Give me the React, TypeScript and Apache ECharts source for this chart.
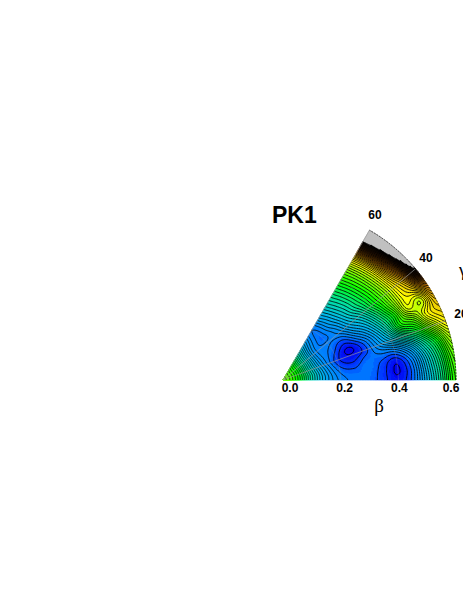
import React, { useEffect, useRef } from "react";
import * as echarts from "echarts";

const betaNodes = [0, 0.05, 0.1, 0.15, 0.2, 0.25, 0.3, 0.35, 0.4, 0.45, 0.5, 0.55, 0.6];
const gammaNodes = [0, 5, 10, 15, 20, 25, 30, 35, 40, 45, 50, 55, 60];
const energy0 = [20, 16.5, 11, 6.5, 4, 3.3, 3.2, 2.2, 1.3, 3, 7.5, 12.5, 18];
const energy5 = [20, 16.5, 11, 6.5, 3.7, 3.2, 3.3, 2.2, 1.0, 3, 8, 13, 18.5];
const energy10 = [20, 16.5, 11, 6.2, 3.2, 2.6, 3.4, 2.5, 1.5, 4, 9, 14, 19.5];
const energy15 = [20, 16.5, 10.7, 5.8, 2.6, 1.8, 3, 3.5, 4, 7, 11.5, 16, 21.5];
const energy20 = [20, 16.5, 10.5, 5.3, 2.2, 1.2, 2.2, 5, 8, 12, 15.5, 20.5, 24.5];
const energy25 = [20, 16.5, 10.2, 5, 2.5, 0.9, 2.6, 6, 10.5, 16.5, 19, 24, 26.5];
const energy30 = [20, 16.5, 10.2, 4.8, 3, 1.8, 4.2, 7.5, 12, 17, 23, 22, 28.5];
const energy35 = [20, 16.5, 10.2, 4.6, 3.4, 3.0, 6, 9, 13.5, 18.5, 23.5, 26.5, 33];
const energy40 = [20, 16.5, 10.2, 4.5, 3.6, 4.3, 7.5, 10.5, 15, 19, 24, 30, 44];
const energy45 = [20, 16.5, 10.2, 4.6, 3.2, 5, 8.5, 12, 15.5, 19.5, 25, 34, 50];
const energy50 = [20, 16.5, 10.4, 5, 3.2, 5.8, 9.2, 12.5, 16, 20, 26, 38, 55];
const energy55 = [20, 16.7, 10.8, 5.6, 3.3, 6.3, 9.8, 13, 16.5, 20.5, 27, 41, 58];
const energy60 = [20, 17, 11.2, 6.2, 3.5, 6.8, 10.3, 13.5, 17, 21, 28, 43, 60];
const energyRows = [energy0, energy5, energy10, energy15, energy20, energy25, energy30, energy35, energy40, energy45, energy50, energy55, energy60];

const betaTicks = ["0.0", "0.2", "0.4", "0.6"];
const gammaTicks = ["60", "40", "20"];
const gridGammas = [20, 40, 60];
const gridBetas = [0.2, 0.4];
const title = "PK1";

const CAP = 45;
const NB = 108;
const NG = 84;
const BUCKETS = 140;

const colorStops: [number, number[]][] = [
  [0, [0, 0, 225]],
  [1, [0, 0, 240]],
  [2.5, [0, 64, 255]],
  [3.5, [0, 125, 255]],
  [8, [0, 185, 235]],
  [12, [0, 225, 160]],
  [16.5, [0, 255, 0]],
  [24, [255, 255, 0]],
  [31, [210, 125, 0]],
  [37, [90, 40, 0]],
  [45, [0, 0, 0]],
];

function colorOf(v: number) {
  let a = colorStops[0];
  let b = colorStops[colorStops.length - 1];
  for (let i = 0; i < colorStops.length - 1; i++) {
    if (v >= colorStops[i][0] && v <= colorStops[i + 1][0]) {
      a = colorStops[i];
      b = colorStops[i + 1];
      break;
    }
  }
  const t = Math.max(0, Math.min(1, (v - a[0]) / (b[0] - a[0] || 1)));
  const c = a[1].map((x, i) => Math.round(x + (b[1][i] - x) * t));
  return `rgb(${c[0]},${c[1]},${c[2]})`;
}

function catmull(p0: number, p1: number, p2: number, p3: number, t: number) {
  return 0.5 * (2 * p1 + (p2 - p0) * t + (2 * p0 - 5 * p1 + 4 * p2 - p3) * t * t + (3 * p1 - p0 - 3 * p2 + p3) * t * t * t);
}

function sample(bi: number, gi: number) {
  const b = Math.min(bi, betaNodes.length - 1.0001);
  const g = Math.min(gi, gammaNodes.length - 1.0001);
  const ib = Math.floor(b);
  const ig = Math.floor(g);
  const row = (j: number) => {
    const r = energyRows[Math.max(0, Math.min(energyRows.length - 1, j))];
    const at = (k: number) => r[Math.max(0, Math.min(r.length - 1, k))];
    return catmull(at(ib - 1), at(ib), at(ib + 1), at(ib + 2), b - ib);
  };
  return catmull(row(ig - 1), row(ig), row(ig + 1), row(ig + 2), g - ig);
}

const field: number[][] = [];
for (let j = 0; j <= NG; j++) {
  const r: number[] = [];
  for (let i = 0; i <= NB; i++) {
    r.push(sample((i / NB) * (betaNodes.length - 1), (j / NG) * (gammaNodes.length - 1)));
  }
  field.push(r);
}
const betaAt = (i: number) => (i / NB) * 0.6;
const gammaAt = (j: number) => (j / NG) * 60;

const levels: number[] = [];
for (let l = 0.3; l < CAP; l += 0.8) levels.push(l);

function bucketOf(v: number) {
  if (v >= CAP) return BUCKETS;
  return Math.max(0, Math.min(BUCKETS - 1, Math.floor((v / CAP) * BUCKETS)));
}
const bucketIds: number[][] = [];
for (let k = 0; k <= BUCKETS; k++) bucketIds.push([0.3, 30, k]);
const levelIds = levels.map((l) => [0.3, 30, l]);

function fillItem(params: any, api: any) {
  const k = params.dataIndex;
  let d = "";
  for (let j = 0; j < NG; j++) {
    for (let i = 0; i < NB; i++) {
      const v = (field[j][i] + field[j + 1][i] + field[j][i + 1] + field[j + 1][i + 1]) / 4;
      if (bucketOf(v) !== k) continue;
      const p = [
        api.coord([betaAt(i), gammaAt(j)]),
        api.coord([betaAt(i + 1), gammaAt(j)]),
        api.coord([betaAt(i + 1), gammaAt(j + 1)]),
        api.coord([betaAt(i), gammaAt(j + 1)]),
      ];
      d += `M${p.map((q: number[]) => `${q[0].toFixed(2)} ${q[1].toFixed(2)}`).join("L")}Z`;
    }
  }
  if (!d) return null;
  const color = k === BUCKETS ? "#c0c0c0" : colorOf(((k + 0.5) / BUCKETS) * CAP);
  return {
    type: "path",
    shape: { pathData: d },
    style: { fill: color, stroke: color, lineWidth: 0.7 },
    silent: true,
  };
}

function contourItem(params: any, api: any) {
  const level = levels[params.dataIndex];
  let d = "";
  const cross = (i0: number, j0: number, i1: number, j1: number) => {
    const a = field[j0][i0];
    const b = field[j1][i1];
    const t = (level - a) / (b - a);
    const q = api.coord([betaAt(i0 + (i1 - i0) * t), gammaAt(j0 + (j1 - j0) * t)]);
    return `${q[0].toFixed(2)} ${q[1].toFixed(2)}`;
  };
  for (let j = 0; j < NG; j++) {
    for (let i = 0; i < NB; i++) {
      const pts: string[] = [];
      const a = field[j][i], b = field[j][i + 1], c = field[j + 1][i + 1], e = field[j + 1][i];
      if (a < level !== b < level) pts.push(cross(i, j, i + 1, j));
      if (b < level !== c < level) pts.push(cross(i + 1, j, i + 1, j + 1));
      if (c < level !== e < level) pts.push(cross(i + 1, j + 1, i, j + 1));
      if (e < level !== a < level) pts.push(cross(i, j + 1, i, j));
      for (let s = 0; s + 1 < pts.length; s += 2) d += `M${pts[s]}L${pts[s + 1]}`;
    }
  }
  if (!d) return null;
  return {
    type: "path",
    shape: { pathData: d },
    style: { fill: "none", stroke: "#000", lineWidth: 0.85 },
    silent: true,
  };
}

function gridItem(params: any, api: any) {
  const children: any[] = [];
  gridGammas.forEach((g) => {
    const a = api.coord([0, g]);
    const b = api.coord([0.6, g]);
    children.push({ type: "line", shape: { x1: a[0], y1: a[1], x2: b[0], y2: b[1] }, style: { stroke: "rgba(150,150,150,0.75)", lineWidth: 0.9 } });
  });
  gridBetas.forEach((beta) => {
    const pts: number[][] = [];
    for (let g = 0; g <= 60; g += 2) pts.push(api.coord([beta, g]));
    children.push({ type: "polyline", shape: { points: pts }, style: { stroke: "rgba(150,150,150,0.35)", lineWidth: 0.9, fill: "none" } });
  });
  const rim: number[][] = [];
  for (let g = 0; g <= 60; g += 1) rim.push(api.coord([0.6, g]));
  children.push({ type: "polyline", shape: { points: rim }, style: { stroke: "#222", lineWidth: 0.8, lineDash: [2, 1], fill: "none" } });
  return { type: "group", children, silent: true };
}

export default function App() {
  const ref = useRef<HTMLDivElement>(null);
  useEffect(() => {
    document.body.style.margin = "0";
    const chart = echarts.init(ref.current!, undefined, { renderer: "svg" });
    const cx = 283;
    const cy = 380;
    const R = 173;
    const tickFont = { fontFamily: "Liberation Sans", fontWeight: "bold", fontSize: 12, fill: "#000" };
    const betaOffsets = [7, 4, 1, -5];
    const gammaPos = [[375, 215], [426, 258], [461, 314]];
    chart.setOption({
      animation: false,
      backgroundColor: "#fff",
      polar: { center: [cx, cy], radius: [0, R] },
      angleAxis: { type: "value", min: 0, max: 360, startAngle: 0, clockwise: false, show: false },
      radiusAxis: { type: "value", min: 0, max: 0.6, show: false },
      series: [
        { type: "custom", coordinateSystem: "polar", clip: false, data: bucketIds, renderItem: fillItem, z: 1 },
        { type: "custom", coordinateSystem: "polar", clip: false, data: levelIds, renderItem: contourItem, z: 2 },
        { type: "custom", coordinateSystem: "polar", clip: false, data: [[0.3, 30]], renderItem: gridItem, z: 3 },
      ],
      graphic: [
        { type: "text", x: 272, y: 215, style: { text: title, fontFamily: "Liberation Sans", fontWeight: "bold", fontSize: 23, fill: "#000", textAlign: "left", textVerticalAlign: "middle" } },
        ...betaTicks.map((t, i) => ({ type: "text", x: cx + (R * i) / 3 + betaOffsets[i], y: 388, style: { ...tickFont, text: t, textAlign: "center", textVerticalAlign: "middle" } })),
        ...gammaTicks.map((t, i) => ({ type: "text", x: gammaPos[i][0], y: gammaPos[i][1], style: { ...tickFont, text: t, textAlign: "center", textVerticalAlign: "middle" } })),
        { type: "text", x: 379, y: 405, style: { text: "β", fontFamily: "Liberation Serif", fontSize: 19, fill: "#000", textAlign: "center", textVerticalAlign: "middle" } },
        { type: "text", x: 463, y: 270, style: { text: "γ", fontFamily: "Liberation Serif", fontSize: 18, fill: "#000", textAlign: "center", textVerticalAlign: "middle" } },
      ],
    });
    return () => chart.dispose();
  }, []);
  return <div ref={ref} style={{ position: "absolute", left: 0, top: 0, width: 463, height: 599, overflow: "hidden" }} />;
}
